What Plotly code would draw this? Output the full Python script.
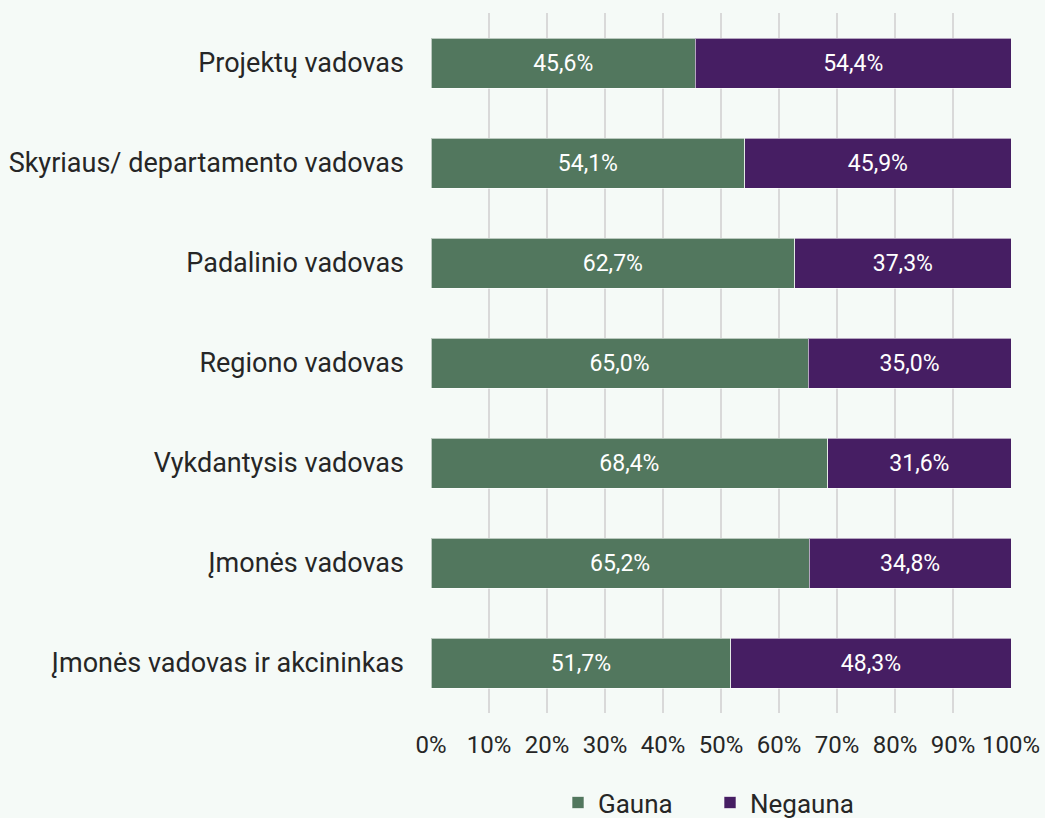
import plotly.graph_objects as go

categories = [
    "Projektų vadovas",
    "Skyriaus/ departamento vadovas",
    "Padalinio vadovas",
    "Regiono vadovas",
    "Vykdantysis vadovas",
    "Įmonės vadovas",
    "Įmonės vadovas ir akcininkas",
]
gauna = [45.6, 54.1, 62.7, 65.0, 68.4, 65.2, 51.7]
negauna = [54.4, 45.9, 37.3, 35.0, 31.6, 34.8, 48.3]
x_ticks = [0, 10, 20, 30, 40, 50, 60, 70, 80, 90, 100]
x_tick_labels = ["0%", "10%", "20%", "30%", "40%", "50%", "60%", "70%", "80%", "90%", "100%"]

GREEN = "#52775E"
PURPLE = "#461E63"
BG = "#F5FAF7"
TXT = "#262626"

fig = go.Figure()
for name, vals, col in [("Gauna", gauna, GREEN), ("Negauna", negauna, PURPLE)]:
    fig.add_trace(go.Bar(
        name=name, y=categories, x=vals, orientation="h",
        marker=dict(color=col, line=dict(color="rgba(255,255,255,0.6)", width=1)),
        width=0.5,
        texttemplate="%{x:.1f}%", textposition="inside", insidetextanchor="middle",
        textfont=dict(color="white", size=23, family="Roboto"),
        hoverinfo="skip",
    ))

fig.update_layout(
    barmode="stack",
    width=1045, height=818,
    separators=", ",
    paper_bgcolor=BG, plot_bgcolor=BG,
    margin=dict(l=431, r=34, t=13, b=105, autoexpand=False),
    font=dict(family="Roboto", size=24, color=TXT),
    xaxis=dict(
        range=[0, 100], tickvals=x_ticks, ticktext=x_tick_labels,
        showgrid=True, gridcolor="#D9D9D9", gridwidth=1.5,
        zeroline=False, showline=False,
        ticks="", ticklabelstandoff=15,
        tickfont=dict(size=24, color=TXT),
        fixedrange=True,
    ),
    yaxis=dict(
        categoryorder="array", categoryarray=categories[::-1],
        range=[-0.5, 6.5],
        showgrid=False, zeroline=False, showline=False,
        ticks="", ticklabelstandoff=26,
        tickfont=dict(size=27, color=TXT),
        fixedrange=True,
    ),
    legend=dict(
        orientation="h", x=0.219, xanchor="left", y=-0.128, yanchor="middle",
        font=dict(size=26, color=TXT),
        entrywidth=107, entrywidthmode="pixels",
        itemwidth=30, traceorder="normal",
        bgcolor="rgba(0,0,0,0)",
    ),
    showlegend=True,
)

fig.write_html("out.html", config={"displayModeBar": False},
               post_script="document.body.style.margin='0';")
